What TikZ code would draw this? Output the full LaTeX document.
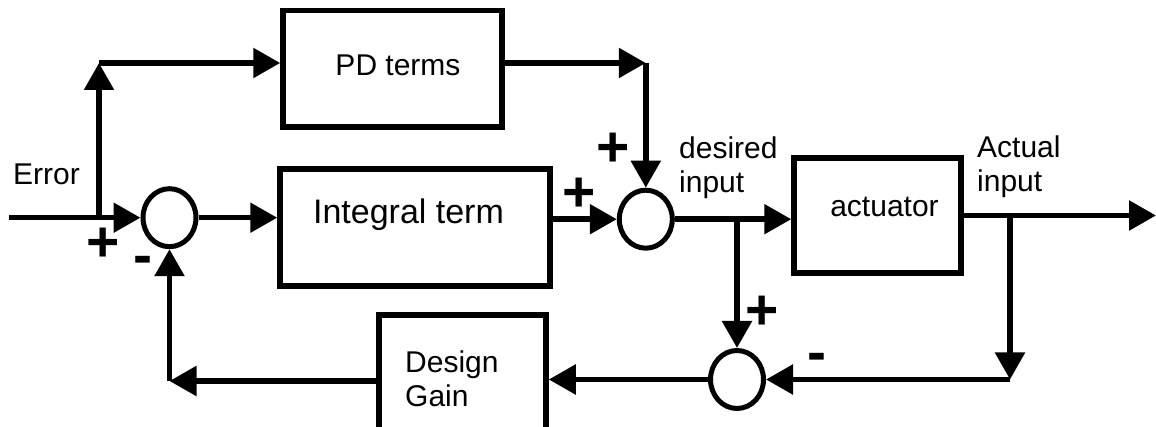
\documentclass[tikz,border=0pt]{standalone}
\usepackage{fontspec}
\setmainfont{Liberation Sans}
\usetikzlibrary{arrows.meta,shapes.geometric}
\begin{document}
\begin{tikzpicture}[x=1pt,y=-1pt,
  blk/.style={draw,line width=5.5pt,inner sep=0pt},
  sum/.style={draw,ellipse,line width=5pt,inner sep=0pt,minimum width=53pt,minimum height=58pt},
  sig/.style={line width=5.5pt,-{Triangle[length=27pt,width=29pt]}},
  lbl/.style={font=\fontsize{30}{34}\selectfont,inner sep=0pt},
  sgn/.style={font=\fontsize{57}{57}\selectfont\bfseries,inner sep=0pt,anchor=base}]
\useasboundingbox (0,0) rectangle (1156,427);

% blocks
\node[blk,minimum width=219pt,minimum height=116.5pt] (PD) at (392.5,69) {};
\node[blk,minimum width=270pt,minimum height=117pt] (Int) at (415,227.5) {};
\node[blk,minimum width=167pt,minimum height=115pt] (Act) at (877.5,215.5) {};
\node[blk,minimum width=167pt,minimum height=131pt] (DG) at (462.5,380.5) {};

% summing junctions
\node[sum] (C1) at (169.5,217.7) {};
\node[sum] (C2) at (645.8,219.2) {};
\node[sum] (C3) at (737,379.5) {};

% block texts and signal names
\node[lbl,anchor=base] (tPD) at (398,76) {PD terms};
\node[lbl,font=\fontsize{34}{40}\selectfont,anchor=base] (tInt) at (408.5,224) {Integral term};
\node[lbl,anchor=base west] (tErr) at (13,185) {Error};
\node[lbl,anchor=base west] (tDes) at (679,159) {\begin{tabular}[t]{@{}l@{}}desired\\input\end{tabular}};
\node[lbl,anchor=base] (tAct) at (884.5,216.7) {actuator};
\node[lbl,anchor=base west] (tOut) at (977,158) {\begin{tabular}[t]{@{}l@{}}Actual\\input\end{tabular}};
\node[lbl,anchor=base west] (tDG) at (405,372) {\begin{tabular}[t]{@{}l@{}}Design\\Gain\end{tabular}};

% signs at the junctions
\node[sgn] (p1) at (103,262) {+};
\node[sgn] (m1) at (143,275) {-};
\node[sgn] (p2) at (579,212) {+};
\node[sgn] (p3) at (613,167) {+};
\node[sgn] (p4) at (762,330) {+};
\node[sgn] (m2) at (817,371) {-};

% branch and corner points
\coordinate (in) at (9,217.7);
\coordinate (br1) at (99,217.7);
\coordinate (tap1) at (99,63);
\coordinate (tap2) at (645.8,63);
\coordinate (br2) at (737,219.2);
\coordinate (out) at (1156,215.5);
\coordinate (br3) at (1010,215.5);
\coordinate (tap3) at (1010,379.5);
\coordinate (tap4) at (169.5,381);

% signal paths
\draw[sig] (in) -- (C1.west);
\draw[sig] (br1) -- (tap1);
\draw[sig] (tap1) -- (tap1 -| PD.west);
\draw[sig] (C1.east) -- (C1.east -| Int.west);
\draw[sig] (PD.east |- tap2) -- (tap2);
\draw[sig] (tap2) -- (C2.north);
\draw[sig] (Int.east |- C2) -- (C2.west);
\draw[sig] (C2.east) -- (C2.east -| Act.west);
\draw[sig] (br2) -- (C3.north);
\draw[sig] (Act.east) -- (out);
\draw[sig] (br3) -- (tap3);
\draw[sig] (tap3) -- (C3.east);
\draw[sig] (C3.west) -- (C3.west -| DG.east);
\draw[sig] (DG.west |- tap4) -- (tap4);
\draw[sig] (tap4) -- (C1.south);
\end{tikzpicture}
\end{document}
